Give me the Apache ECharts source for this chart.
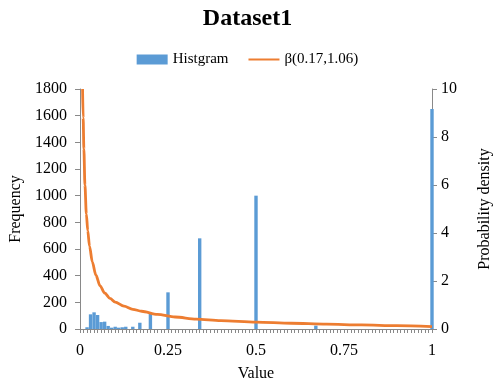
<!DOCTYPE html>
<html>
<head>
<meta charset="utf-8">
<script src="https://cdn.jsdelivr.net/npm/echarts@6/dist/echarts.min.js"></script>
<style>
html,body{margin:0;padding:0;background:#fff;}
#chart{width:495px;height:378px;}
</style>
</head>
<body>
<div id="chart"></div>
<script>
// Histogram bins (value) and frequencies
var binCenters = [0.02, 0.03, 0.04, 0.05, 0.06, 0.07, 0.08, 0.09, 0.10, 0.11, 0.12, 0.13, 0.15, 0.17, 0.20, 0.25, 0.34, 0.50, 0.67, 1.00];
var frequencies = [13, 110, 125, 105, 52, 55, 23, 10, 17, 10, 13, 17, 17, 47, 118, 275, 680, 1000, 25, 1650];

// Beta density curve points
var densX = [0.0073, 0.009, 0.011, 0.014, 0.018, 0.022, 0.027, 0.035, 0.045, 0.057, 0.07, 0.085, 0.1, 0.125, 0.15, 0.175, 0.22, 0.27, 0.33, 0.4, 0.5, 0.6, 0.7, 0.8, 0.9, 1.0];
var densY = [10, 8.8, 7.5, 6.0, 4.8, 4.1, 3.45, 2.8, 2.25, 1.8, 1.5, 1.28, 1.12, 0.95, 0.82, 0.74, 0.61, 0.5, 0.41, 0.35, 0.29, 0.24, 0.2, 0.17, 0.14, 0.1];

var xTickLabels = {0: '0', 0.25: '0.25', 0.5: '0.5', 0.75: '0.75', 1: '1'};

var seriesNames = ['Histgram', 'β(0.17,1.06)'];

var barData = binCenters.map(function (x, i) { return [x, frequencies[i]]; });
var lineData = densX.map(function (x, i) { return [x, densY[i]]; });

var font = 'Liberation Serif, Times New Roman, serif';
var axisGrey = '#898989';

var chart = echarts.init(document.getElementById('chart'));
chart.setOption({
  animation: false,
  textStyle: {fontFamily: font, color: '#000'},
  title: {
    text: 'Dataset1',
    left: 'center',
    top: 2,
    textStyle: {fontFamily: font, fontSize: 24, fontWeight: 'bold', color: '#000'}
  },
  legend: {
    top: 47,
    left: 'center',
    itemGap: 19,
    itemWidth: 31,
    itemHeight: 10,
    textStyle: {fontFamily: font, fontSize: 15, color: '#000'},
    data: [
      {name: seriesNames[0], icon: 'rect'},
      {name: seriesNames[1], itemStyle: {color: 'rgba(0,0,0,0)', opacity: 0, borderWidth: 0}}
    ]
  },
  grid: {left: 80, right: 63, top: 89, bottom: 49, containLabel: false, outerBoundsMode: 'none'},
  xAxis: {
    type: 'value',
    min: 0, max: 1, interval: 0.25,
    name: 'Value',
    nameLocation: 'middle',
    nameGap: 37,
    nameTextStyle: {fontFamily: font, fontSize: 16, color: '#000'},
    axisLine: {lineStyle: {color: axisGrey, width: 1}},
    axisTick: {show: true, length: 4, lineStyle: {color: axisGrey}},
    minorTick: {show: true, splitNumber: 25, length: 4, lineStyle: {color: axisGrey}},
    splitLine: {show: false},
    axisLabel: {
      fontFamily: font, fontSize: 16, color: '#000', margin: 14,
      formatter: function (v) { return xTickLabels[v] !== undefined ? xTickLabels[v] : ''; }
    }
  },
  yAxis: [
    {
      type: 'value', min: 0, max: 1800, interval: 200,
      name: 'Frequency', nameLocation: 'middle', nameGap: 51,
      nameTextStyle: {fontFamily: font, fontSize: 16, color: '#000'},
      axisLine: {show: true, lineStyle: {color: axisGrey}},
      axisTick: {show: true, length: 5, lineStyle: {color: axisGrey}},
      splitLine: {show: false},
      axisLabel: {fontFamily: font, fontSize: 16, color: '#000', margin: 13,
        formatter: function (v) { return String(v); }}
    },
    {
      type: 'value', min: 0, max: 10, interval: 2,
      name: 'Probability density', nameLocation: 'middle', nameGap: 45,
      nameTextStyle: {fontFamily: font, fontSize: 16, color: '#000'},
      position: 'right',
      axisLine: {show: true, lineStyle: {color: axisGrey}},
      axisTick: {show: true, length: 5, lineStyle: {color: axisGrey}},
      splitLine: {show: false},
      axisLabel: {fontFamily: font, fontSize: 16, color: '#000', margin: 9,
        formatter: function (v) { return String(v); }}
    }
  ],
  series: [
    {
      name: seriesNames[0],
      type: 'bar',
      data: barData,
      barWidth: 3.4,
      clip: false,
      itemStyle: {color: '#5B9BD5'},
      yAxisIndex: 0
    },
    {
      name: seriesNames[1],
      type: 'line',
      data: lineData,
      yAxisIndex: 1,
      symbol: 'none',
      smooth: 0.3,
      smoothMonotone: 'x',
      lineStyle: {color: '#ED7D31', width: 2.8},
      itemStyle: {color: '#ED7D31'}
    }
  ]
});
</script>
</body>
</html>
